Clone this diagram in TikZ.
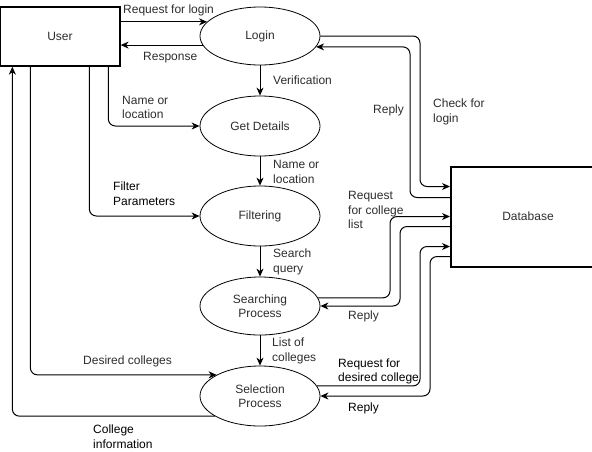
\documentclass[tikz,border=0pt]{standalone}
\usepackage{fontspec}
\setmainfont{Liberation Sans}
\usepackage{xcolor}
\definecolor{ink}{RGB}{45,45,45}
\usetikzlibrary{arrows.meta,shapes.geometric}

\begin{document}
\begin{tikzpicture}[x=1pt, y=-1pt,
        proc/.style={ellipse, draw=black, line width=0.8pt, minimum width=120pt, minimum height=#1, inner sep=0pt, align=center, font=\fontsize{12}{14.5}\selectfont, text=ink},
        entity/.style={rectangle, draw=black, line width=#1, inner sep=0pt, font=\fontsize{12}{14.5}\selectfont, text=ink},
        arrow/.style={-{Stealth[length=8pt,width=7pt,inset=2.5pt]}, line width=1pt, rounded corners=7pt},
        lbl/.style={anchor=west, align=left, inner sep=0pt, font=\fontsize{12}{14.5}\selectfont, text=#1},
        lbl/.default=ink
    ]
        \useasboundingbox (0,0) rectangle (592,451);

        \node[entity=1.3pt, minimum width=120pt, minimum height=59pt] (user) at (60,36.5) {User};
        \node[entity=2pt, minimum width=154pt, minimum height=100pt] (database) at (528,216.5) {Database};

        \node[proc=58pt] (login) at (260,36) {Login};
        \node[proc=60pt] (details) at (260,126) {Get Details};
        \node[proc=60pt] (filter) at (260,216) {Filtering};
        \node[proc=58pt] (search) at (260,306) {Searching\\Process};
        \node[proc=60pt] (select) at (260,396) {Selection\\Process};

        \draw[arrow] (user.east |- login.165) -- (login.165);
        \draw[arrow] (login.189) -- (user.east |- login.189);
        \draw[arrow] (login) -- (details);
        \draw[arrow] (details) -- (filter);
        \draw[arrow] (filter) -- (search);
        \draw[arrow] (search) -- (select);

        \draw[arrow] ([xshift=109pt]user.south west) |- (details);
        \draw[arrow] ([xshift=90pt]user.south west) |- (filter);
        \draw[arrow] ([xshift=31pt]user.south west) |- (select.154);
        \draw[arrow] (select.204) -| ([xshift=13pt]user.south west);

        \draw[arrow] (login.east) -| ([xshift=-30pt,yshift=30pt]database.west) -- ([yshift=30pt]database.west);
        \draw[arrow] ([yshift=19pt]database.west) -- ([xshift=-40pt,yshift=19pt]database.west) |- (login.-11);
        \draw[arrow] (search.8) -| ([xshift=-60pt]database.west) -- (database.west);
        \draw[arrow] ([yshift=-10pt]database.west) -- ([xshift=-50pt,yshift=-10pt]database.west) |- (search.east);
        \draw[arrow] (select.10) -| ([xshift=-30pt,yshift=-30pt]database.west) -- ([yshift=-30pt]database.west);
        \draw[arrow] ([yshift=-40pt]database.west) -- ([xshift=-20pt,yshift=-40pt]database.west) |- (select.east);

        \node[lbl] (reqlogin) at (123,10) {Request for login};
        \node[lbl] (response) at (143,58) {Response};
        \node[lbl] (verify) at (273,80) {Verification};
        \node[lbl] (nameloc) at (122,107.5) {Name or\\location};
        \node[lbl] (nameloc2) at (273,172) {Name or\\location};
        \node[lbl=black] (filterpar) at (113,193.5) {Filter\\Parameters};
        \node[lbl] (query) at (273,262) {Search\\query};
        \node[lbl] (collist) at (272,351) {List of\\colleges};
        \node[lbl] (desired) at (83,361) {Desired colleges};
        \node[lbl=black] (collinfo) at (93,436.5) {College\\information};
        \node[lbl] (replylogin) at (373,110) {Reply};
        \node[lbl] (checklogin) at (433,112) {Check for\\login};
        \node[lbl] (reqlist) at (348,210) {Request\\for college\\list};
        \node[lbl] (replysearch) at (348,316) {Reply};
        \node[lbl=black] (reqdesired) at (338,371.5) {Request for\\desired college};
        \node[lbl=black] (replyselect) at (348,408) {Reply};
    \end{tikzpicture}
\end{document}
